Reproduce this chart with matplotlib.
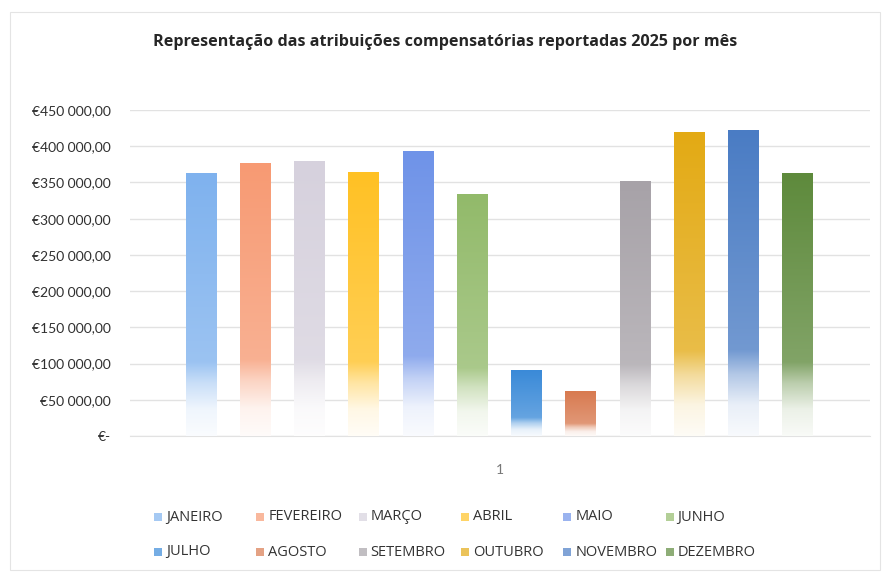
import matplotlib
matplotlib.use("Agg")
from matplotlib import pyplot as plt
from matplotlib.patches import Rectangle
from matplotlib.colors import to_rgb
import numpy as np

months = ["JANEIRO", "FEVEREIRO", "MARÇO", "ABRIL", "MAIO", "JUNHO",
          "JULHO", "AGOSTO", "SETEMBRO", "OUTUBRO", "NOVEMBRO", "DEZEMBRO"]
values = [363000, 375500, 378500, 363500, 393000, 334000,
          90000, 61000, 351000, 419000, 422000, 362000]
colors = ["#7fb2ee", "#f79a73", "#d6d1dd", "#ffc124", "#6f93e8", "#92ba6a",
          "#3a8ad8", "#d87a50", "#a7a2a8", "#e3aa14", "#4a7cc4", "#5e8a3c"]
yticks = np.arange(0, 450001, 50000)
title = "Representação das atribuições compensatórias reportadas 2025 por mês"

W, H = 886, 576
plt.rcParams['font.family'] = ['Lato', 'DejaVu Sans']

fig = plt.figure(figsize=(W / 100, H / 100), dpi=100)
fig.patch.set_facecolor("white")

# faint scanned border
fig.add_artist(Rectangle((10 / W, 6 / H), 870 / W, 558 / H, transform=fig.transFigure,
                         fill=False, edgecolor="#e4e4e4", linewidth=0.8))

ax = fig.add_axes([130 / W, 1 - 436 / H, 740 / W, 326 / H])
x = np.arange(len(months))
width = 0.57

bars = ax.bar(x, values, width, color="none", edgecolor="none", zorder=3)

# vertical gradient: solid at the top, fading to white towards the base
n = 200
t = np.linspace(0, 1, n)
strength = np.interp(t, [0, 0.1, 0.2, 0.28, 1.0], [0.04, 0.12, 0.42, 0.78, 1.0])
for b, c in zip(bars, colors):
    rgb = np.array(to_rgb(c))
    img = (1 - strength[:, None]) * 1.0 + strength[:, None] * rgb[None, :]
    img = img[:, None, :]
    x0 = b.get_x()
    ax.imshow(img, extent=[x0, x0 + b.get_width(), 0, b.get_height()],
              origin="lower", aspect="auto", zorder=3, interpolation="bilinear")

ax.set_xlim(-1.31, 12.33)
ax.set_ylim(0, 450000)

def euro(v):
    if v == 0:
        return "€-"
    s = f"{int(v):,}".replace(",", " ")
    return f"€{s},00"

ax.set_yticks(yticks)
ax.set_yticklabels([euro(v) for v in yticks], fontsize=10, color="#303030")
ax.set_xticks([5.5])
ax.set_xticklabels(["1"], fontsize=10, color="#777777")
ax.tick_params(axis="y", length=0, pad=14)
ax.tick_params(axis="x", length=0, pad=20)
ax.grid(axis="y", color="#e2e2e2", linewidth=1, zorder=0)
for s in ["top", "right", "left"]:
    ax.spines[s].set_visible(False)
ax.spines["bottom"].set_color("#e2e2e2")
ax.set_facecolor("white")

fig.text(445 / W, 1 - 42 / H, title, ha="center", va="center",
         fontsize=11.6, fontweight="bold", color="#262626",
         family=["Open Sans", "DejaVu Sans"])

# legend: two rows of six, evenly spaced as in the original
for i, (name, c) in enumerate(zip(months, colors)):
    col, row = i % 6, i // 6
    cx = 158 + col * 102.3
    cy = 517 + row * 35
    light = 0.7 * np.array(to_rgb(c)) + 0.3
    fig.add_artist(Rectangle(((cx - 4) / W, 1 - (cy + 4) / H), 8 / W, 8 / H,
                             transform=fig.transFigure, facecolor=light,
                             edgecolor="none"))
    fig.text((cx + 8) / W, 1 - cy / H, name, ha="left", va="center",
             fontsize=10.5, color="#333333", family=["Open Sans", "DejaVu Sans"])

fig.savefig("out.png", dpi=100, facecolor="white")
